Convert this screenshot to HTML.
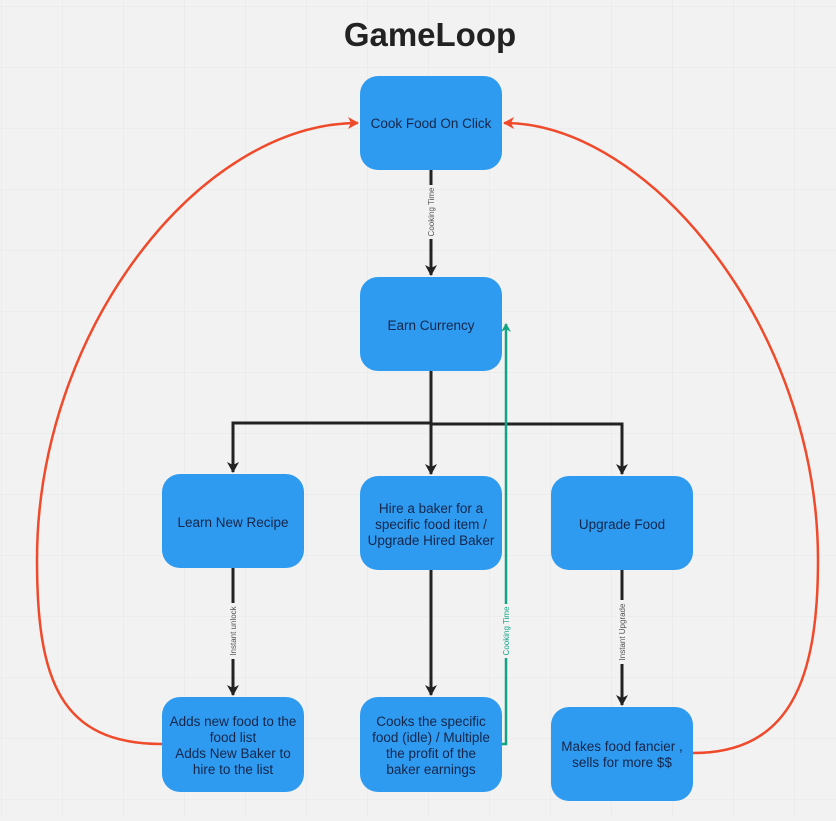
<!DOCTYPE html>
<html><head><style>
body{margin:0;width:836px;height:816px;overflow:hidden;background:#f2f2f2;font-family:"Liberation Sans",sans-serif;}
</style></head><body>
<svg width="836" height="816" xmlns="http://www.w3.org/2000/svg">
<defs>
<pattern id="g" x="1" y="6" width="61" height="61" patternUnits="userSpaceOnUse">
<path d="M0 0H61M0 0V61" stroke="#e6e6e6" stroke-width="1" fill="none"/>
</pattern>
<marker id="ab" markerWidth="12" markerHeight="12" refX="10" refY="6" orient="auto" markerUnits="userSpaceOnUse"><path d="M0,0 L11,6 L0,12 L3,6z" fill="#222"/></marker>
<marker id="ar" markerWidth="12" markerHeight="12" refX="10" refY="6" orient="auto" markerUnits="userSpaceOnUse"><path d="M0,0 L11,6 L0,12 L3,6z" fill="#ef4a2b"/></marker>
<marker id="ag" markerWidth="10" markerHeight="10" refX="8" refY="5" orient="auto" markerUnits="userSpaceOnUse"><path d="M0,0 L9,5 L0,10 L3,5z" fill="#12a385"/></marker>
</defs>
<rect width="836" height="816" fill="url(#g)"/>
<text x="430" y="46" text-anchor="middle" font-size="33" font-weight="bold" fill="#222">GameLoop</text>

<g stroke="#222" stroke-width="3" fill="none">
<line x1="431" y1="170" x2="431" y2="275" marker-end="url(#ab)"/>
<line x1="431" y1="371" x2="431" y2="423"/>
<polyline points="233,472 233,423 431,423"/>
<line x1="431" y1="423" x2="431" y2="474" marker-end="url(#ab)"/>
<polyline points="431,424 622,424 622,474" marker-end="url(#ab)"/>
<line x1="233" y1="470" x2="233" y2="472" marker-end="url(#ab)"/>
<line x1="233" y1="568" x2="233" y2="695" marker-end="url(#ab)"/>
<line x1="431" y1="570" x2="431" y2="695" marker-end="url(#ab)"/>
<line x1="622" y1="570" x2="622" y2="705" marker-end="url(#ab)"/>
</g>
<polyline points="502,744 506,744 506,324" stroke="#12a385" stroke-width="2.5" fill="none" marker-end="url(#ag)"/>
<path d="M162,744 C60,744 37,680 37,560 C37,330 200,123 358,123" stroke="#ef4a2b" stroke-width="2.5" fill="none" marker-end="url(#ar)"/>
<path d="M693,753 C790,753 818,680 818,560 C818,330 650,123 504,123" stroke="#ef4a2b" stroke-width="2.5" fill="none" marker-end="url(#ar)"/>

<g font-size="8" fill="#555" text-anchor="middle">
<rect x="426" y="185" width="10" height="54" fill="#f2f2f2"/>
<text transform="translate(434,212) rotate(-90)">Cooking Time</text>
<rect x="228" y="603" width="10" height="56" fill="#f2f2f2"/>
<text transform="translate(236,631) rotate(-90)">Instant unlock</text>
<rect x="617" y="600" width="10" height="64" fill="#f2f2f2"/>
<text transform="translate(625,632) rotate(-90)">Instant Upgrade</text>
<rect x="501" y="604" width="10" height="54" fill="#f2f2f2"/>
<text transform="translate(509,631) rotate(-90)" fill="#12a385">Cooking Time</text>
</g>

<g fill="#2e9bf0">
<rect x="360" y="76" width="142" height="94" rx="18"/>
<rect x="360" y="277" width="142" height="94" rx="18"/>
<rect x="162" y="474" width="142" height="94" rx="18"/>
<rect x="360" y="476" width="142" height="94" rx="18"/>
<rect x="551" y="476" width="142" height="94" rx="18"/>
<rect x="162" y="697" width="142" height="95" rx="18"/>
<rect x="360" y="697" width="142" height="95" rx="18"/>
<rect x="551" y="707" width="142" height="94" rx="18"/>
</g>
<g font-size="13.5" fill="#15264a" text-anchor="middle">
<text x="431" y="128">Cook Food On Click</text>
<text x="431" y="330">Earn Currency</text>
<text x="233" y="527">Learn New Recipe</text>
<text x="431" y="513">Hire a baker for a</text>
<text x="431" y="529">specific food item /</text>
<text x="431" y="545">Upgrade Hired Baker</text>
<text x="622" y="529">Upgrade Food</text>
<text x="233" y="726">Adds new food to the</text>
<text x="233" y="742">food list</text>
<text x="233" y="758">Adds New Baker to</text>
<text x="233" y="774">hire to the list</text>
<text x="431" y="726">Cooks the specific</text>
<text x="431" y="742">food (idle) / Multiple</text>
<text x="431" y="758">the profit of the</text>
<text x="431" y="774">baker earnings</text>
<text x="622" y="751">Makes food fancier ,</text>
<text x="622" y="767">sells for more $$</text>
</g>
</svg>
</body></html>
